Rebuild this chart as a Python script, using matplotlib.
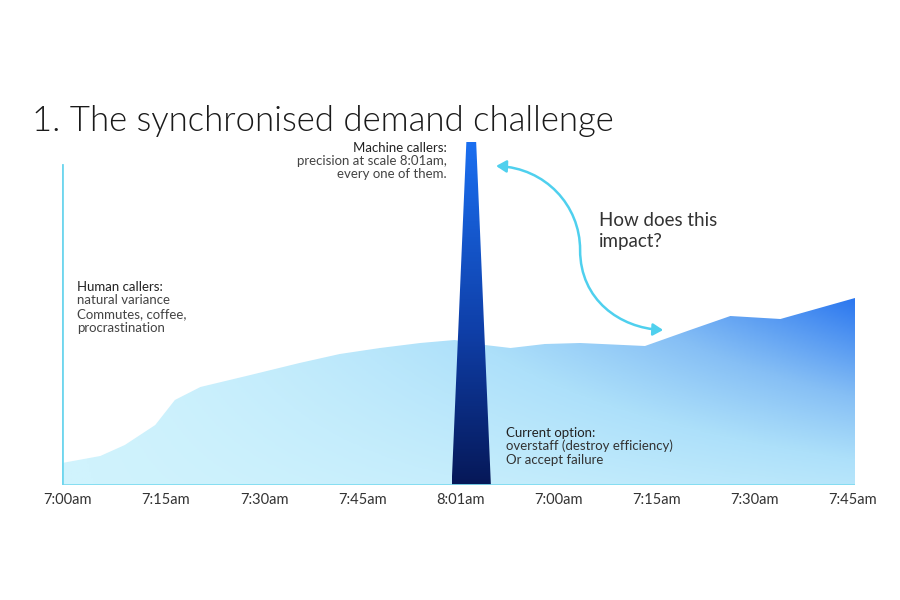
import numpy as np
import matplotlib.pyplot as plt
from matplotlib.colors import LinearSegmentedColormap
from matplotlib.patches import Polygon, FancyArrowPatch
from matplotlib.path import Path

plt.rcParams['font.family'] = ['Lato', 'DejaVu Sans']

# tick labels along the bottom (two copies of the morning, spike at 8:01)
tick_pos = [0, 1, 2, 3, 4, 5, 6, 7, 8]
tick_labels = ["7:00am", "7:15am", "7:30am", "7:45am", "8:01am",
               "7:00am", "7:15am", "7:30am", "7:45am"]

# human callers demand curve
human_x = [-0.06, 0.33, 0.58, 0.89, 1.09, 1.35, 1.86, 2.36, 2.77, 3.18,
           3.59, 3.94, 4.25, 4.51, 4.86, 5.22, 5.88, 6.34, 6.75, 7.26, 8.02]
human_y = [22, 29, 40, 60, 85, 98, 110, 122, 131, 137,
           142, 145, 140, 137, 141, 142, 139, 155, 169, 166, 187]

# machine callers spike
spike_x = [3.91, 4.06, 4.16, 4.31]
spike_y = [0, 343, 343, 0]

XMIN, XMAX, YMAX = -0.06, 8.02, 343

fig = plt.figure(figsize=(9, 6), dpi=100)
ax = fig.add_axes([62/900, 115/600, 793/900, 343/600])
ax.set_xlim(XMIN, XMAX)
ax.set_ylim(0, YMAX)
for s in ax.spines.values():
    s.set_visible(False)
ax.set_yticks([])
ax.set_xticks(tick_pos)
ax.set_xticklabels(tick_labels, fontsize=10.5, color='#333333')
ax.tick_params(axis='x', length=0, pad=6)

# area with diagonal gradient
area_cmap = LinearSegmentedColormap.from_list(
    'area', [(0, '#d0f3fd'), (0.35, '#ade0fa'), (0.6, '#86bff5'), (1, '#2a76ef')])
gx = np.linspace(XMIN, XMAX, 400)
gy = np.linspace(0, YMAX, 300)
GX, GY = np.meshgrid(gx, gy)
xf = (GX - XMIN) / (XMAX - XMIN)
t = np.clip(xf ** 1.3 * (0.25 + 0.75 * GY / max(human_y)), 0, 1)
im = ax.imshow(t, extent=[XMIN, XMAX, 0, YMAX], origin='lower', aspect='auto',
               cmap=area_cmap, vmin=0, vmax=1, zorder=1)
verts = list(zip(human_x, human_y)) + [(human_x[-1], 0), (human_x[0], 0)]
poly = Polygon(verts, closed=True, facecolor='none', edgecolor='none')
ax.add_patch(poly)
im.set_clip_path(poly)

# spike with vertical gradient
spike_cmap = LinearSegmentedColormap.from_list(
    'spike', [(0, '#061858'), (0.45, '#0f3fa8'), (1, '#1b6ff0')])
sy = np.linspace(0, 1, 200).reshape(-1, 1)
im2 = ax.imshow(sy, extent=[spike_x[0], spike_x[-1], 0, YMAX], origin='lower',
                aspect='auto', cmap=spike_cmap, zorder=2)
spoly = Polygon(list(zip(spike_x, spike_y)), closed=True, facecolor='none', edgecolor='none')
ax.add_patch(spoly)
im2.set_clip_path(spoly)

# axis lines
ax.plot([XMIN, XMAX], [0, 0], color='#7fdcf0', lw=2, zorder=3, solid_capstyle='butt')
ax.plot([XMIN, XMIN], [0, 320], color='#6fd6ee', lw=2, zorder=3)

# curved double arrow
arrow_path = Path([(4.363, 319), (4.862, 317), (5.219, 280), (5.219, 235),
                   (5.219, 185), (5.627, 157), (6.065, 155)],
                  [Path.MOVETO, Path.CURVE4, Path.CURVE4, Path.CURVE4,
                   Path.CURVE4, Path.CURVE4, Path.CURVE4])
arr = FancyArrowPatch(path=arrow_path, arrowstyle='<|-|>,head_length=0.5,head_width=0.3',
                      mutation_scale=12, color='#4fd0ee', lw=1.8, zorder=4)
ax.add_patch(arr)

# texts
fig.text(32/900, 1 - 121/600, "1. The synchronised demand challenge",
         fontsize=25, color='#1a1a1a', fontweight=300, va='center', ha='left')

fig.text(447/900, 1 - 148/600, "Machine callers:", fontsize=9.5, color='#222222',
         ha='right', va='center')
fig.text(447/900, 1 - 161/600, "precision at scale 8:01am,", fontsize=9.5,
         color='#444444', ha='right', va='center')
fig.text(447/900, 1 - 174/600, "every one of them.", fontsize=9.5,
         color='#444444', ha='right', va='center')

fig.text(77/900, 1 - 287/600, "Human callers:", fontsize=9.5, color='#222222', va='center')
for i, line in enumerate(["natural variance", "Commutes, coffee,", "procrastination"]):
    fig.text(77/900, 1 - (300 + 14 * i)/600, line, fontsize=9.5, color='#444444', va='center')

fig.text(506/900, 1 - 433/600, "Current option:", fontsize=9.5, color='#222222', va='center')
for i, line in enumerate(["overstaff (destroy efficiency)", "Or accept failure"]):
    fig.text(506/900, 1 - (446 + 14 * i)/600, line, fontsize=9.5, color='#333333', va='center')

fig.text(599/900, 1 - 220/600, "How does this", fontsize=13.5, color='#333333', va='center')
fig.text(599/900, 1 - 242/600, "impact?", fontsize=13.5, color='#333333', va='center')

fig.savefig('out.png', dpi=100, facecolor='white')
